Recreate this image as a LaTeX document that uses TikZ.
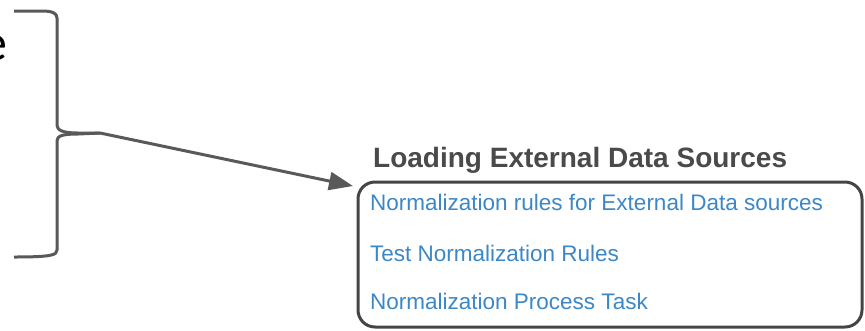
\documentclass[tikz,border=0pt]{standalone}
\usepackage{fontspec}
\setmainfont{Liberation Sans}
\newfontfamily\bracefont{Carlito}
\usetikzlibrary{positioning,arrows.meta,calc}
\definecolor{linegray}{HTML}{595959}
\definecolor{framegray}{HTML}{454545}
\definecolor{titlegray}{HTML}{4A4A4A}
\definecolor{linkblue}{HTML}{3C87C6}

\begin{document}
\begin{tikzpicture}[
    x=1pt, y=-1pt,
    brace/.style={draw=linegray, line width=3pt, line join=round},
    frame/.style={draw=framegray, line width=3pt, rounded corners=17pt, minimum width=504pt, minimum height=145pt, inner sep=0pt},
    heading/.style={anchor=base west, inner sep=0pt, text=titlegray, font=\fontsize{28}{32}\selectfont\bfseries},
    link/.style={anchor=base west, inner sep=0pt, text=linkblue, font=\fontsize{22.5}{26}\selectfont}
  ]
    \useasboundingbox (0,0) rectangle (865,330);

    % left over text and brace
    \node[anchor=base east, inner sep=0pt, font=\bracefont\fontsize{52}{56}\selectfont] (word) at (8,60) {e};
    \draw[brace] (14,11) -- (42,11) .. controls (52,11) and (57,13) .. (57,18)
      -- (57,125) .. controls (57,130) and (62,133) .. (78,133) -- (100,133);
    \draw[brace] (100,133) -- (78,134) .. controls (62,134) and (57,136) .. (57,141)
      -- (57,250) .. controls (57,255) and (52,257) .. (14,257);
    \coordinate (tip) at (100,133);

    % list of tasks
    \node[heading] (title) at (373,167) {Loading External Data Sources};
    \node[frame] (list) at (610,254.5) {};
    \node[link] (rules) at (370,210) {Normalization rules for External Data sources};
    \node[link] (test) at (370,261) {Test Normalization Rules};
    \node[link] (task) at (370,309) {Normalization Process Task};

    \coordinate (entry) at (353,186);
    \draw[draw=linegray, line width=3pt, -{Triangle[length=24pt,width=18pt]}] (tip) -- (entry);
  \end{tikzpicture}
\end{document}
